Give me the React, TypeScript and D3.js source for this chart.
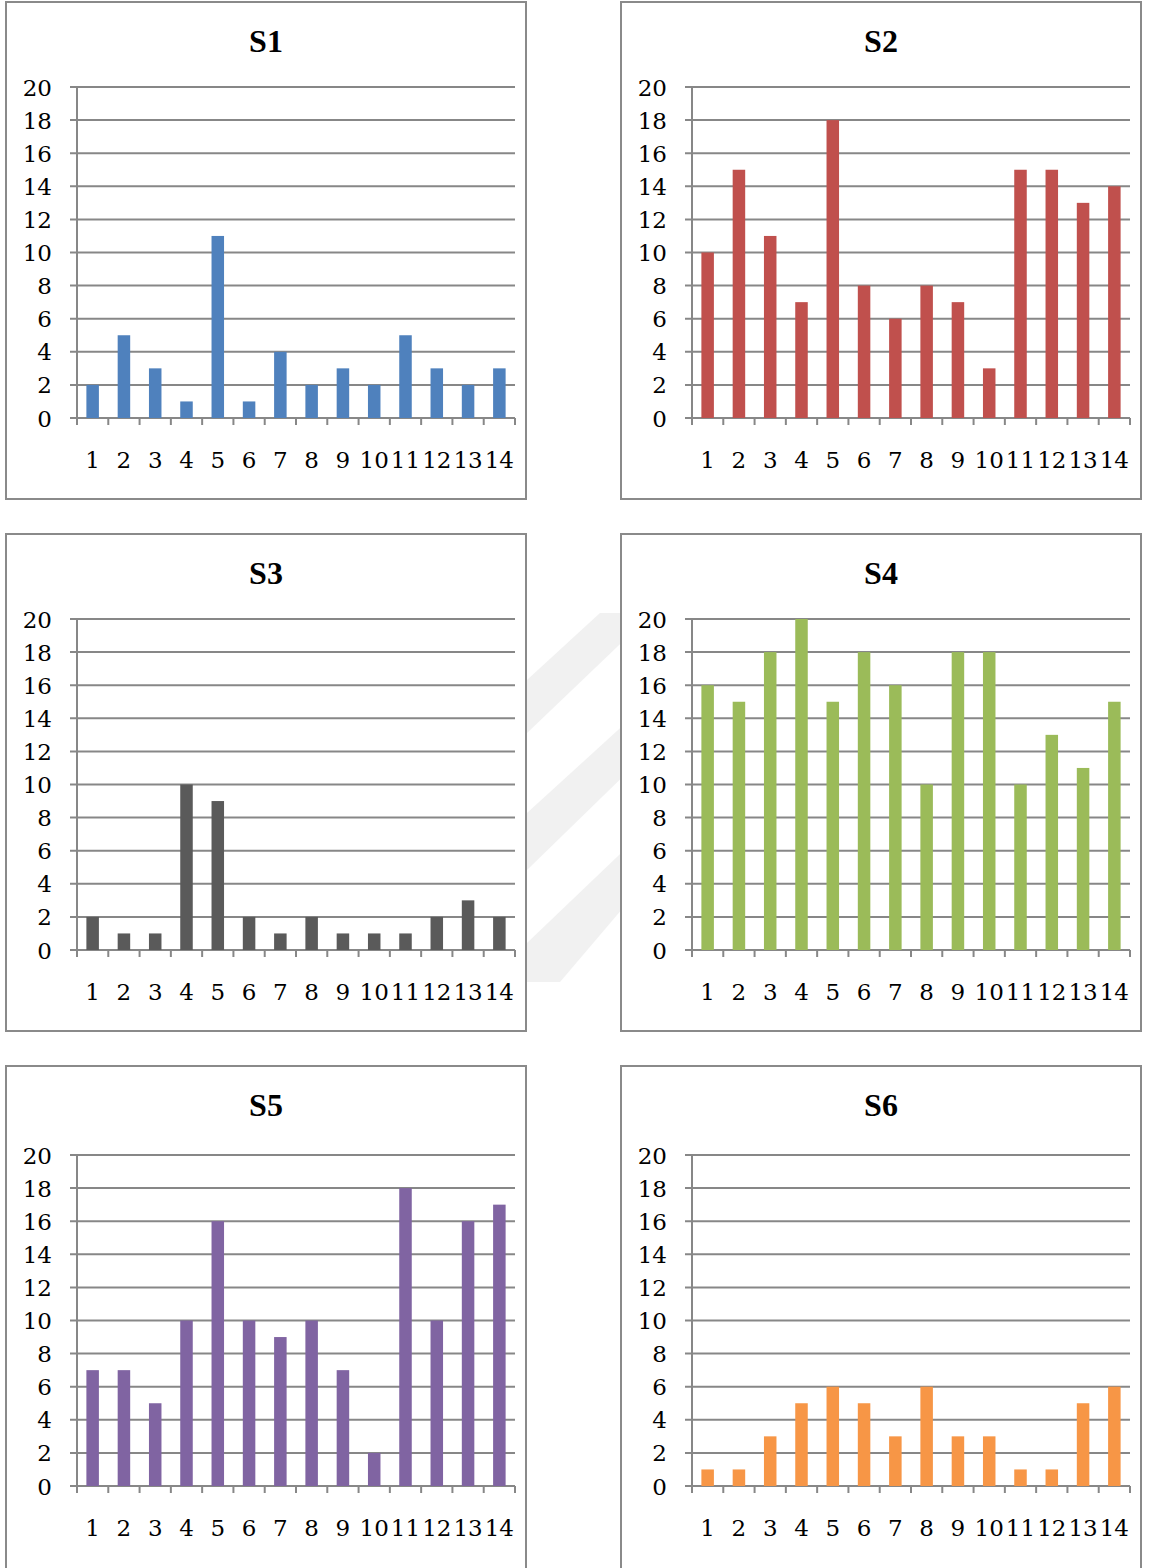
import React from "react";
import * as d3 from "d3";

const categories = ["1","2","3","4","5","6","7","8","9","10","11","12","13","14"];
const yTicks = [0, 2, 4, 6, 8, 10, 12, 14, 16, 18, 20];

const s1 = [2, 5, 3, 1, 11, 1, 4, 2, 3, 2, 5, 3, 2, 3];
const s2 = [10, 15, 11, 7, 18, 8, 6, 8, 7, 3, 15, 15, 13, 14];
const s3 = [2, 1, 1, 10, 9, 2, 1, 2, 1, 1, 1, 2, 3, 2];
const s4 = [16, 15, 18, 20, 15, 18, 16, 10, 18, 18, 10, 13, 11, 15];
const s5 = [7, 7, 5, 10, 16, 10, 9, 10, 7, 2, 18, 10, 16, 17];
const s6 = [1, 1, 3, 5, 6, 5, 3, 6, 3, 3, 1, 1, 5, 6];

const seriesNames = ["S1", "S2", "S3", "S4", "S5", "S6"];
const seriesValues = [s1, s2, s3, s4, s5, s6];
const seriesColors = ["#4F81BD", "#C0504D", "#5A5A5A", "#9BBB59", "#8064A2", "#F79646"];

const W = 1149;
const H = 1568;
const LABEL_FONT = "'DejaVu Serif', serif";
const TITLE_FONT = "'Liberation Serif', 'Times New Roman', serif";
const GRID = "#878787";

const colLeft = [6, 621];
const rowTop = [2, 534, 1066];
const rowHeight = [497, 497, 520];
const plotOffset = [85, 85, 89];
const panelW = 520;

function Panel({ name, values, color, px, py, ph, off }: any) {
  const x0 = px + 71;
  const x1 = px + 509;
  const yTop = py + off;
  const yBot = yTop + 331;
  const band = d3.scaleBand<string>().domain(categories).range([x0, x1]);
  const y = d3.scaleLinear().domain([0, 20]).range([yBot, yTop]);
  const step = band.step();
  const bw = step / 2.5;
  return (
    <g>
      <rect x={px} y={py} width={panelW} height={ph} fill="#fff" stroke="#8a8a8a" strokeWidth={2} />
      <text x={px + 260} y={py + 50} textAnchor="middle" fontFamily={TITLE_FONT} fontWeight="bold" fontSize={32} fill="#000">
        {name}
      </text>
      {yTicks.map((t) => (
        <g key={t}>
          <line x1={x0 - 7} x2={x1} y1={y(t)} y2={y(t)} stroke={GRID} strokeWidth={2} />
          <text x={x0 - 25} y={y(t) + 8.5} textAnchor="end" fontFamily={LABEL_FONT} fontSize={23} fill="#000">
            {t}
          </text>
        </g>
      ))}
      {values.map((v: number, i: number) => {
        const c = categories[i];
        const cx = (band(c) as number) + step / 2;
        return <rect key={c} x={cx - bw / 2} y={y(v)} width={bw} height={y(0) - y(v)} fill={color} />;
      })}
      <line x1={x0} x2={x0} y1={yTop} y2={yBot + 7} stroke={GRID} strokeWidth={2} />
      {d3.range(categories.length + 1).map((i) => (
        <line key={i} x1={x0 + i * step} x2={x0 + i * step} y1={yBot} y2={yBot + 7} stroke={GRID} strokeWidth={2} />
      ))}
      {categories.map((c) => (
        <text key={c} x={(band(c) as number) + step / 2} y={yBot + 50} textAnchor="middle" fontFamily={LABEL_FONT} fontSize={23} fill="#000">
          {c}
        </text>
      ))}
    </g>
  );
}

export default function App() {
  // faint diagonal watermark bands showing in the gutter between columns
  const bands = [
    "M600,613 L640,613 L640,625 L527,733 L527,680 Z",
    "M640,710 L640,760 L527,870 L527,813 Z",
    "M640,835 L640,888 L560,982 L527,982 L527,943 Z",
  ];
  return (
    <div style={{ position: "absolute", left: 0, top: 0 }}>
      <svg width={W} height={H} style={{ display: "block" }}>
        <rect width={W} height={H} fill="#fff" />
        {bands.map((d, i) => (
          <path key={i} d={d} fill="#f1f1f1" />
        ))}
        {seriesNames.map((name, i) => {
          const col = i % 2;
          const row = Math.floor(i / 2);
          return (
            <Panel
              key={name}
              name={name}
              values={seriesValues[i]}
              color={seriesColors[i]}
              px={colLeft[col]}
              py={rowTop[row]}
              ph={rowHeight[row]}
              off={plotOffset[row]}
            />
          );
        })}
      </svg>
    </div>
  );
}
